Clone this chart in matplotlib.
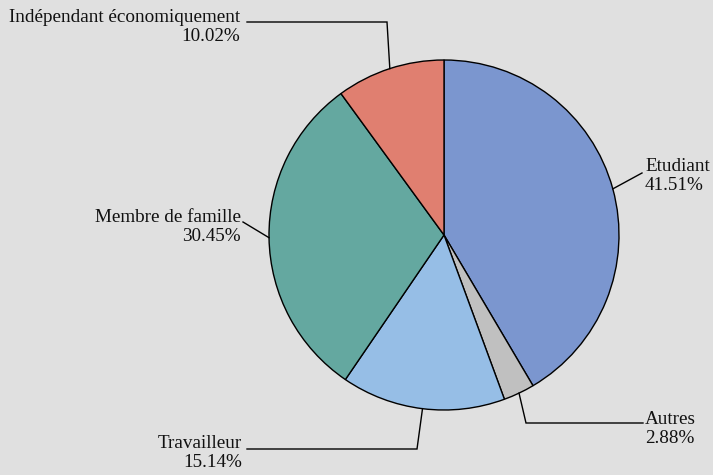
import numpy as np
import matplotlib.pyplot as plt

plt.rcParams['font.family'] = ['Liberation Serif', 'DejaVu Serif']

# data
labels = ['Etudiant', 'Autres', 'Travailleur', 'Membre de famille', 'Indépendant économiquement']
values = [41.51, 2.88, 15.14, 30.45, 10.02]
colors = ['#7b96cf', '#c0c0c0', '#96bee6', '#64a8a0', '#e07f70']

# label layout in pixel coords (y measured from top): elbow point, text anchor, alignment
elbows = [(642, 173), (526, 423), (417, 449), (243, 222), (387, 22)]
ends = [(642, 173), (643, 423), (247, 449), (243, 222), (247, 22)]
text_pos = [(645, 176), (645, 429), (242, 453), (241, 227), (240, 27)]
aligns = ['left', 'left', 'right', 'right', 'right']

W, H = 713, 475
fig = plt.figure(figsize=(W / 100, H / 100), dpi=100)
fig.patch.set_facecolor('#e0e0e0')
ax = fig.add_axes([0, 0, 1, 1])

cx, cy, r = 444, H - 235, 175
wedges, _ = ax.pie(values, colors=colors, startangle=90, counterclock=False,
                   center=(cx, cy), radius=r, frame=True,
                   wedgeprops=dict(edgecolor='black', linewidth=1))
ax.set_xlim(0, W)
ax.set_ylim(0, H)
ax.set_aspect('equal')
ax.axis('off')

for w, lab, val, el, en, tp, al in zip(wedges, labels, values, elbows, ends, text_pos, aligns):
    ang = np.deg2rad((w.theta1 + w.theta2) / 2)
    px, py = cx + r * np.cos(ang), cy + r * np.sin(ang)
    ax.plot([px, el[0], en[0]], [py, H - el[1], H - en[1]], color='black', lw=1, solid_joinstyle='miter')
    ax.text(tp[0], H - tp[1], lab + '\n' + '%.2f%%' % val, ha=al, va='center',
            multialignment=al, fontsize=13.8, linespacing=1.17, color='#111111')

fig.savefig('out.png', dpi=100, facecolor=fig.get_facecolor())
